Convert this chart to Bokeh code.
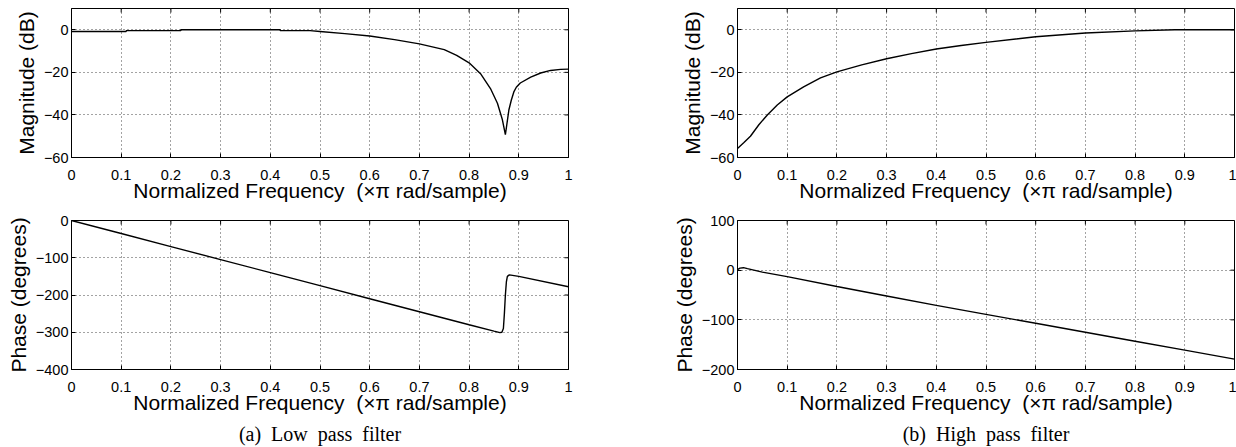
import math
from bokeh.plotting import figure
from bokeh.models import Range1d, FixedTicker, Title
from bokeh.layouts import column, row
from bokeh.embed import file_html
from bokeh.resources import INLINE

# ---------------- data ----------------
lp_mag_freq = [0, 0.11, 0.11, 0.22, 0.22, 0.42, 0.42, 0.48, 0.5, 0.55, 0.6, 0.65, 0.7, 0.75,
               0.775, 0.8, 0.823, 0.843, 0.857, 0.867, 0.873, 0.88, 0.885, 0.89, 0.895, 0.903,
               0.924, 0.944, 0.964, 0.984, 1.0]
lp_mag_db = [-0.8, -0.8, -0.4, -0.4, 0, 0, -0.4, -0.4, -0.8, -1.8, -2.9, -4.6, -6.6, -9.3,
             -12.0, -15.5, -20.6, -27.6, -34.5, -42.3, -49.3, -37.7, -33.0, -29.2, -27.0, -25.0,
             -22.2, -20.3, -19.1, -18.6, -18.5]

lp_phase_freq = [0, 0.1, 0.2, 0.3, 0.4, 0.5, 0.6, 0.7, 0.8, 0.85, 0.862, 0.866, 0.869,
                 0.871, 0.873, 0.875, 0.877, 0.881, 0.9, 1.0]
lp_phase_deg = [0, -35, -70, -105, -140, -175, -210, -245, -280, -297, -301, -300, -290,
                -250, -200, -165, -150, -146, -150, -178]

hp_mag_freq = [0, 0.013, 0.026, 0.043, 0.06, 0.08, 0.1, 0.133, 0.167, 0.2, 0.25, 0.3, 0.35,
               0.4, 0.45, 0.5, 0.6, 0.7, 0.8, 0.88, 1.0]
hp_mag_db = [-55.8, -53, -50, -44.6, -40, -35.3, -31.5, -26.8, -22.6, -19.8, -16.5, -13.6,
             -11.2, -9.0, -7.4, -5.9, -3.3, -1.5, -0.5, 0, 0]

hp_phase_freq = [0, 0.005, 0.012, 0.02, 0.05, 0.1, 0.2, 0.3, 0.4, 0.5, 0.6, 0.7, 0.8, 0.9, 1.0]
hp_phase_deg = [1, 4, 5, 3, -4, -13, -33, -52, -71, -89, -107, -125, -143, -161, -179]

x_ticks = [0, 0.1, 0.2, 0.3, 0.4, 0.5, 0.6, 0.7, 0.8, 0.9, 1]
x_tick_labels = ["0", "0.1", "0.2", "0.3", "0.4", "0.5", "0.6", "0.7", "0.8", "0.9", "1"]

mag_ticks = [-60, -40, -20, 0]
mag_tick_labels = ["\u221260", "\u221240", "\u221220", "0"]
lp_phase_ticks = [-400, -300, -200, -100, 0]
lp_phase_tick_labels = ["\u2212400", "\u2212300", "\u2212200", "\u2212100", "0"]
hp_phase_ticks = [-200, -100, 0, 100]
hp_phase_tick_labels = ["\u2212200", "\u2212100", "0", "100"]

x_label = "Normalized Frequency\u00a0 (\u00d7\u03c0 rad/sample)"
mag_label = "Magnitude (dB)"
phase_label = "Phase (degrees)"
captions = ["(a)\u00a0 Low\u00a0 pass\u00a0 filter", "(b)\u00a0 High\u00a0 pass\u00a0 filter"]

SANS = "Liberation Sans"
SERIF = "Liberation Serif"
TICK_FS = "14.5px"
LABEL_FS = "21px"
TICK_LEN = 4


def style_axis(ax, ticks, labels, axis_label, label_standoff, tick_standoff):
    ax.ticker = FixedTicker(ticks=ticks)
    ax.major_label_overrides = dict(zip(ticks, labels))
    ax.major_tick_in = TICK_LEN
    ax.major_tick_out = 0
    ax.minor_tick_line_color = None
    ax.major_tick_line_color = "black"
    ax.axis_line_color = "black"
    ax.major_label_text_font = SANS
    ax.major_label_text_color = "black"
    ax.major_label_text_font_size = TICK_FS
    ax.major_label_standoff = tick_standoff
    ax.axis_label = axis_label
    ax.axis_label_text_font = SANS
    ax.axis_label_text_font_size = LABEL_FS
    ax.axis_label_text_font_style = "normal"
    ax.axis_label_text_color = "black"
    ax.axis_label_standoff = label_standoff


def panel(xs, ys, y0, y1, yticks, ylabels, ylabel, bl, br, bt, bb, caption=None):
    p = figure(frame_width=497, frame_height=149, output_backend="svg", toolbar_location=None,
               x_range=Range1d(0, 1), y_range=Range1d(y0, y1),
               min_border_left=bl, min_border_right=br, min_border_top=bt, min_border_bottom=bb)
    p.background_fill_color = "white"
    p.border_fill_color = "white"
    p.outline_line_color = "black"
    p.outline_line_alpha = 1
    p.outline_line_width = 1

    style_axis(p.xaxis[0], x_ticks, x_tick_labels, x_label, -4, 12)
    style_axis(p.yaxis[0], yticks, ylabels, ylabel, 3, 3)

    for g in p.grid:
        g.grid_line_color = "#333333"
        g.grid_line_dash = "1 3"
        g.grid_line_width = 1
        g.grid_line_alpha = 0.9

    # mirrored inward ticks on the top and right edges (box style)
    p.ray(x=x_ticks, y=[y1] * len(x_ticks), length=TICK_LEN, length_units="screen",
          angle=-math.pi / 2, line_color="black", line_width=1)
    p.ray(x=[1] * len(yticks), y=yticks, length=TICK_LEN, length_units="screen",
          angle=math.pi, line_color="black", line_width=1)

    p.line(xs, ys, line_color="black", line_width=1.4)

    if caption is not None:
        t = Title(text=caption, align="center", text_font=SERIF, text_font_size="20px",
                  text_font_style="normal", text_color="black", standoff=8)
        p.add_layout(t, "below")
    return p


a_mag = panel(lp_mag_freq, lp_mag_db, -60, 10, mag_ticks, mag_tick_labels, mag_label,
              71, 72, 8, 48)
b_mag = panel(hp_mag_freq, hp_mag_db, -60, 10, mag_ticks, mag_tick_labels, mag_label,
              97, 2, 8, 48)
a_ph = panel(lp_phase_freq, lp_phase_deg, -400, 0, lp_phase_ticks, lp_phase_tick_labels,
             phase_label, 71, 72, 15, 78, captions[0])
b_ph = panel(hp_phase_freq, hp_phase_deg, -200, 100, hp_phase_ticks, hp_phase_tick_labels,
             phase_label, 97, 2, 15, 78, captions[1])

layout = column(row(a_mag, b_mag, spacing=0), row(a_ph, b_ph, spacing=0), spacing=0)

open("out.html", "w").write(file_html(layout, INLINE))
